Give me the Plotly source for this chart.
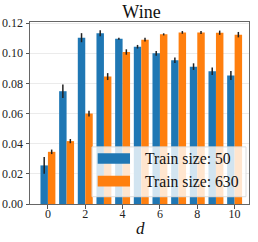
import plotly.graph_objects as go

d_values = list(range(11))
err_50_mean = [0.0256, 0.0748, 0.1103, 0.1132, 0.1096, 0.1043, 0.0999, 0.0953, 0.0911, 0.0880, 0.0852]
err_50_std = [0.0055, 0.0045, 0.0030, 0.0020, 0.0007, 0.0012, 0.0015, 0.0018, 0.0022, 0.0025, 0.0030]
err_630_mean = [0.0346, 0.0417, 0.0600, 0.0845, 0.1008, 0.1090, 0.1125, 0.1138, 0.1138, 0.1136, 0.1123]
err_630_std = [0.0015, 0.0014, 0.0019, 0.0023, 0.0018, 0.0012, 0.0007, 0.0009, 0.0010, 0.0014, 0.0018]
series_names = ["Train size: 50", "Train size: 630"]
colors = ["#1f77b4", "#ff7f0e"]
y_ticks = [0.0, 0.02, 0.04, 0.06, 0.08, 0.10, 0.12]
x_ticks = [0, 2, 4, 6, 8, 10]

SERIF = "Liberation Serif"

fig = go.Figure()
for name, means, stds, col in zip(series_names, [err_50_mean, err_630_mean],
                                  [err_50_std, err_630_std], colors):
    fig.add_trace(go.Bar(
        x=d_values, y=means, name=name,
        marker=dict(color=col, line=dict(width=0)),
        error_y=dict(type="data", array=stds, visible=True, color="#222222",
                     thickness=1.5, width=0),
        showlegend=False,
    ))

# manual legend (matplotlib style)
L, B, W, H = 30, 204.3, 219, 182.6
def px(x): return (x - L) / W
def py(y): return (B - y) / H

shapes = [
    dict(type="rect", xref="paper", yref="paper", layer="above",
         x0=px(92), x1=px(246), y0=py(197), y1=py(147),
         fillcolor="rgba(255,255,255,0.8)", line=dict(color="#dddddd", width=1)),
]
patch_rows = [(153.3, 164), (176, 186.7)]
annotations = []
for (top, bot), col, name in zip(patch_rows, colors, series_names):
    shapes.append(dict(type="rect", xref="paper", yref="paper", layer="above",
                       x0=px(97.7), x1=px(130), y0=py(bot), y1=py(top),
                       fillcolor=col, line=dict(width=0)))
    annotations.append(dict(xref="paper", yref="paper", x=px(143), y=py((top + bot) / 2),
                            text=name, showarrow=False, xanchor="left", yanchor="middle",
                            font=dict(family=SERIF, size=15.7, color="#111111")))
# x-axis title
annotations.append(dict(xref="paper", yref="paper", x=px(140.5), y=py(229), text="<i>d</i>",
                        showarrow=False, xanchor="center", yanchor="middle",
                        font=dict(family=SERIF, size=17, color="#111111")))

fig.update_layout(
    width=258, height=242,
    margin=dict(l=30, r=9, t=22, b=38, autoexpand=False),
    paper_bgcolor="white", plot_bgcolor="white",
    barmode="group", bargap=0.2, bargroupgap=0,
    title=dict(text="Wine", x=px(141.5), xref="paper", xanchor="center", y=1 - 11.5 / 242, yanchor="middle",
               font=dict(family=SERIF, size=18, color="#111111")),
    font=dict(family=SERIF, size=12, color="#222222"),
    shapes=shapes, annotations=annotations,
    xaxis=dict(range=[-0.96, 10.77], tickvals=x_ticks, ticks="outside", ticklen=3.5,
               tickcolor="#555555", showgrid=False, zeroline=False, automargin=False,
               showline=True, linecolor="#666666", linewidth=1, mirror=True,
               ticklabelstandoff=-5,
               tickfont=dict(family=SERIF, size=12, color="#222222")),
    yaxis=dict(range=[0, 0.1207], tickvals=y_ticks, tickformat=".2f", ticks="outside", ticklen=3.5,
               tickcolor="#555555", showgrid=True, gridcolor="#ebebeb", gridwidth=1, zeroline=False,
               showline=True, linecolor="#666666", linewidth=1, mirror=True, automargin=False,
               tickfont=dict(family=SERIF, size=12, color="#222222")),
)

fig.write_html("out.html", config={"displayModeBar": False},
               post_script="document.body.style.margin='0';document.body.style.padding='0';")
